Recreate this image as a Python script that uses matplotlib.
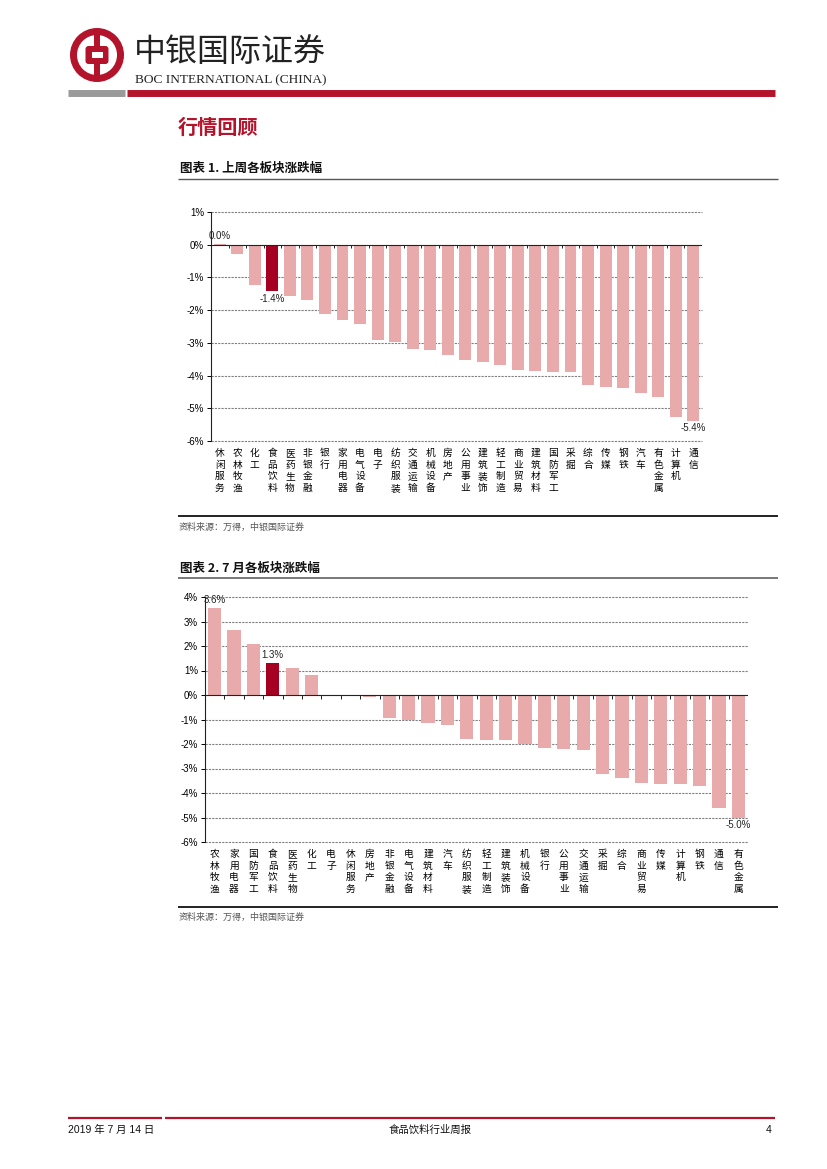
import matplotlib
matplotlib.use("Agg")
import matplotlib.pyplot as plt
from matplotlib.patches import Circle, Rectangle, FancyBboxPatch
import numpy as np

# ---------------- data ----------------
week_cats = ["休闲服务", "农林牧渔", "化工", "食品饮料", "医药生物", "非银金融", "银行",
             "家用电器", "电气设备", "电子", "纺织服装", "交通运输", "机械设备", "房地产",
             "公用事业", "建筑装饰", "轻工制造", "商业贸易", "建筑材料", "国防军工", "采掘",
             "综合", "传媒", "钢铁", "汽车", "有色金属", "计算机", "通信"]
week_vals = [0.02, -0.29, -1.24, -1.41, -1.57, -1.69, -2.13, -2.30, -2.42, -2.90, -2.96,
             -3.20, -3.22, -3.38, -3.52, -3.58, -3.68, -3.84, -3.87, -3.89, -3.89, -4.29,
             -4.36, -4.37, -4.52, -4.66, -5.28, -5.38]
week_highlight = ["食品饮料"]
week_labels = {"休闲服务": "0.0%", "食品饮料": "-1.4%", "通信": "-5.4%"}

month_cats = ["农林牧渔", "家用电器", "国防军工", "食品饮料", "医药生物", "化工", "电子",
              "休闲服务", "房地产", "非银金融", "电气设备", "建筑材料", "汽车", "纺织服装",
              "轻工制造", "建筑装饰", "机械设备", "银行", "公用事业", "交通运输", "采掘",
              "综合", "商业贸易", "传媒", "计算机", "钢铁", "通信", "有色金属"]
month_vals = [3.55, 2.64, 2.10, 1.30, 1.11, 0.81, -0.03, -0.06, -0.10, -0.94, -1.03,
              -1.15, -1.22, -1.79, -1.83, -1.83, -2.02, -2.17, -2.21, -2.25, -3.21, -3.39,
              -3.58, -3.63, -3.63, -3.70, -4.61, -5.00]
month_highlight = ["食品饮料", "休闲服务"]
month_labels = {"农林牧渔": "3.6%", "食品饮料": "1.3%", "有色金属": "-5.0%"}

week_yticks = [1, 0, -1, -2, -3, -4, -5, -6]
month_yticks = [4, 3, 2, 1, 0, -1, -2, -3, -4, -5, -6]

# ---------------- style ----------------
W, H = 827, 1169
CJK = ["Noto Sans CJK SC", "DejaVu Sans"]
NUM = ["Liberation Sans", "Noto Sans CJK SC"]
RED = "#B3142C"
PINK = "#E8AAAA"
DARK = "#A50021"

plt.rcParams["font.family"] = CJK
fig = plt.figure(figsize=(W / 100, H / 100), dpi=100)


def fx(x):
    return x / W


def fy(y):
    return 1 - y / H


def hline(x0, x1, y, color, lw):
    fig.add_artist(plt.Line2D([fx(x0), fx(x1)], [fy(y), fy(y)], color=color, lw=lw,
                              transform=fig.transFigure, solid_capstyle="butt"))


# ---------------- header ----------------
axl = fig.add_axes([fx(69), fy(83), 56 / W, 56 / H])
axl.set_xlim(-28, 28)
axl.set_ylim(-28, 28)
axl.set_aspect("equal")
axl.axis("off")
axl.add_patch(Circle((0, 0), 27, color=RED, lw=0))
axl.add_patch(Circle((0, 0), 20, color="white", lw=0))
axl.add_patch(Rectangle((-2.6, -21), 5.2, 42, color=RED, lw=0))
axl.add_patch(FancyBboxPatch((-10, -7.5), 20, 15, boxstyle="round,pad=1.5,rounding_size=3",
                             color=RED, lw=0))
axl.add_patch(Rectangle((-5.5, -3), 11, 6, color="white", lw=0))

fig.text(fx(134), fy(52), "中银国际证券", fontsize=23, color="#222222", va="center",
         ha="left", family=CJK)
fig.text(fx(135), fy(80), "BOC INTERNATIONAL (CHINA)", fontsize=9.6, color="#222222",
         va="center", ha="left", family=["Liberation Serif"])
hline(68, 125, 92.5, "#9a9a9a", 5)
hline(127, 775, 92.5, RED, 5)

fig.text(fx(178), fy(127), "行情回顾", fontsize=14.5, color=RED, va="center", ha="left",
         fontweight="bold", family=CJK)

# chart titles and rules
fig.text(fx(180), fy(168), "图表 1. 上周各板块涨跌幅", fontsize=9, fontweight="bold",
         va="center", ha="left", color="#111111", family=CJK)
hline(178, 778, 178.5, "#555555", 1.0)
hline(178, 778, 516.5, "#222222", 1.4)
fig.text(fx(179), fy(527), "资料来源：万得，中银国际证券", fontsize=6.5, color="#555555",
         va="center", ha="left", family=CJK, style="italic")

fig.text(fx(180), fy(568), "图表 2. 7 月各板块涨跌幅", fontsize=9, fontweight="bold",
         va="center", ha="left", color="#111111", family=CJK)
hline(178, 778, 578.5, "#777777", 1.4)
hline(178, 778, 906.5, "#222222", 1.4)
fig.text(fx(179), fy(917), "资料来源：万得，中银国际证券", fontsize=6.5, color="#555555",
         va="center", ha="left", family=CJK, style="italic")

# footer
hline(68, 162, 1117.5, RED, 1.6)
hline(165, 775, 1117.5, RED, 1.6)
fig.text(fx(68), fy(1130), "2019 年 7 月 14 日", fontsize=7.5, va="center", ha="left",
         color="#111111", family=NUM)
fig.text(fx(430), fy(1130), "食品饮料行业周报", fontsize=7.5, va="center", ha="center",
         color="#111111", family=CJK)
fig.text(fx(772), fy(1130), "4", fontsize=7.5, va="center", ha="right", color="#111111",
         family=NUM)


# ---------------- charts ----------------
def bar_chart(rect, cats, vals, highlight, labels, yticks, width):
    ax = fig.add_axes(rect)
    x = np.arange(len(cats))
    colors = [DARK if c in highlight else PINK for c in cats]
    ax.set_ylim(min(yticks), max(yticks))
    ax.set_xlim(-0.5, len(cats) - 0.5)
    ax.set_yticks(yticks)
    ax.set_yticklabels([f"{t}%" for t in yticks], family=NUM, fontsize=7)
    for t in yticks:
        if t != 0:
            ax.axhline(t, color="#808080", lw=0.8, ls=(0, (2, 1)), zorder=0,
                       clip_on=False)
    ax.bar(x, vals, width=width, color=colors, zorder=2)
    ax.axhline(0, color="#222222", lw=0.8, zorder=3)
    # category boundary ticks on the zero line
    bnd = np.arange(len(cats) + 1) - 0.5
    ax.vlines(bnd[1:], 0, -(max(yticks) - min(yticks)) * 0.015, color="#222222", lw=0.7,
              zorder=3)
    ax.set_xticks(x)
    ax.set_xticklabels(["\n".join(c) for c in cats], fontsize=7, family=CJK,
                       linespacing=1.22, va="top")
    ax.tick_params(axis="x", length=0, pad=5)
    ax.tick_params(axis="y", length=3, width=0.7, pad=2, direction="out")
    for s in ["top", "right", "bottom"]:
        ax.spines[s].set_visible(False)
    ax.spines["left"].set_linewidth(0.8)
    ax.spines["left"].set_color("#222222")
    rng = max(yticks) - min(yticks)
    for i, (c, v) in enumerate(zip(cats, vals)):
        if c in labels:
            if v >= 0:
                ax.text(i, v + rng * 0.012, labels[c], ha="center", va="bottom",
                        fontsize=7, family=NUM, color="#222222")
            else:
                ax.text(i, v - rng * 0.012, labels[c], ha="center", va="top",
                        fontsize=7, family=NUM, color="#222222")
    return ax


bar_chart([fx(211), fy(441), (702 - 211) / W, (441 - 212) / H],
          week_cats, week_vals, week_highlight, week_labels, week_yticks, 0.68)
bar_chart([fx(205), fy(842), (748 - 205) / W, (842 - 597) / H],
          month_cats, month_vals, month_highlight, month_labels, month_yticks, 0.68)

fig.savefig("out.png", dpi=100)
